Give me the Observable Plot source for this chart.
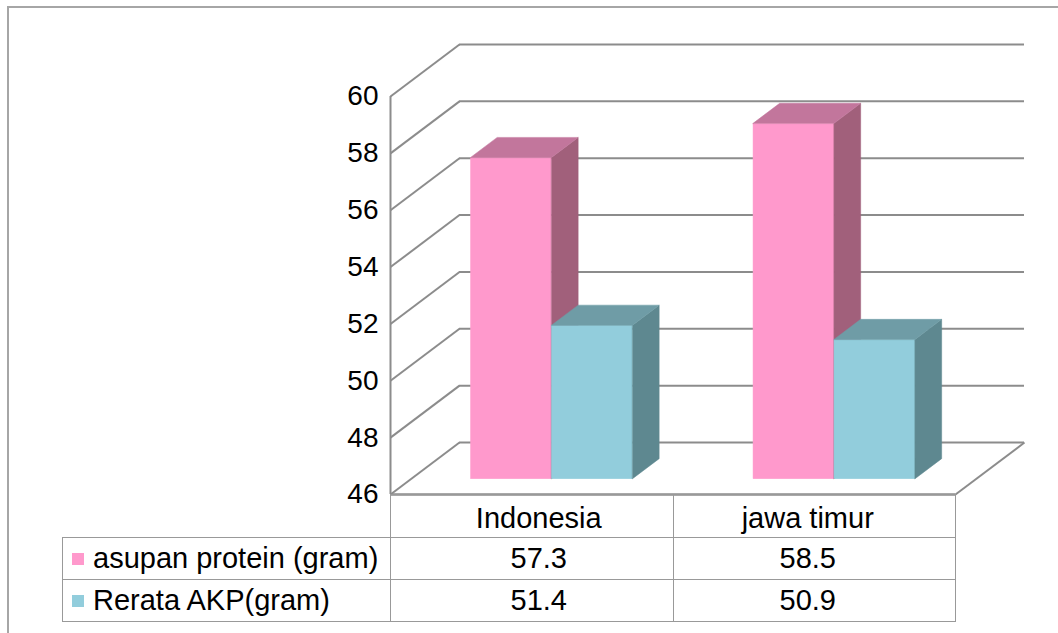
<!DOCTYPE html>
<html>
<head>
<meta charset="utf-8">
<script src="https://cdn.jsdelivr.net/npm/d3@7"></script>
<script src="https://cdn.jsdelivr.net/npm/@observablehq/plot@0.6"></script>
<style>
  html, body { margin: 0; padding: 0; background: #fff; }
  body { width: 1058px; height: 633px; position: relative; overflow: hidden;
         font-family: "Liberation Sans", Arial, sans-serif; color: #000; }
  #frame { position: absolute; left: 7px; top: 6px; right: -10px; bottom: -10px;
           border-top: 2px solid #a6a6a6; border-left: 2px solid #a6a6a6; }
  #chart { position: absolute; left: 0; top: 0; }
  #chart text { font-size: 28px; }
  #datatable { position: absolute; border-collapse: collapse; table-layout: fixed;
               font-size: 29px; }
  #datatable td { border: 1.5px solid #999; padding: 0; white-space: nowrap; }
  #datatable td.num { text-align: center; }
  #datatable td.c0 { padding-left: 14px; }
  #datatable td.c1 { padding-right: 13px; }
  #datatable tr.head td { padding-top: 5px; }
  #datatable td.name { padding-left: 9px; }
  #datatable td.corner { border-top: none; border-left: none; }
  .swatch { display: inline-block; width: 12px; height: 12px; margin-right: 9px;
            vertical-align: 3px; }
</style>
</head>
<body>
<div id="frame"></div>
<div id="chart"></div>
<table id="datatable"></table>
<script>
// Categories and series
const categories = ["Indonesia", "jawa timur"];
const seriesNames = ["asupan protein (gram)", "Rerata AKP(gram)"];
const asupanProtein = [57.3, 58.5];
const rerataAKP = [51.4, 50.9];
const yTicks = [46, 48, 50, 52, 54, 56, 58, 60];

// Face colours per series: front, side, top
const frontColors = ["#ff99cc", "#92cddc"];
const sideColors = ["#a1607b", "#5e8890"];
const topColors = ["#c2769c", "#6f9ca6"];
const gridColor = "#8c8c8c";

// Layout
const W = 1058, H = 500;
const mL = 390, mR = 103, mT = 96, mB = 6;
const yMin = 46, yMax = 60;
const pxX = (W - mL - mR) / categories.length;   // pixels per category
const pxY = (H - mT - mB) / (yMax - yMin);        // pixels per unit

// Oblique depth of the box: the back wall sits 69px right and 52px up
const DX = 69 / pxX;
const DY = 52 / pxY;
const zFront = 0.294, zBack = 0.68;               // bar depth within the box
const barW = 0.2867;                              // bar width as share of a category

const values = [asupanProtein, rerataAKP];
const bars = categories.flatMap((cat, i) => values.map((vals, s) => ({
  cat, series: s, value: vals[i],
  xl: i + 0.5 + (s - 1) * barW,
  xr: i + 0.5 + s * barW
})));

const barMarks = [0, 1].flatMap(s => {
  const b = bars.filter(d => d.series === s);
  const side = b.flatMap(d => [zFront, zBack].map(z => ({
    id: d.cat, x: d.xr + z * DX, y1: yMin + z * DY, y2: d.value + z * DY
  })));
  const top = b.flatMap(d => [zFront, zBack].map(z => ({
    id: d.cat, y: d.value + z * DY, x1: d.xl + z * DX, x2: d.xr + z * DX
  })));
  return [
    Plot.rect(b, {
      x1: d => d.xl + zFront * DX, x2: d => d.xr + zFront * DX,
      y1: () => yMin + zFront * DY, y2: d => d.value + zFront * DY,
      fill: frontColors[s], stroke: frontColors[s], strokeWidth: 0.5
    }),
    Plot.areaY(side, {x: "x", y1: "y1", y2: "y2", z: "id",
      fill: sideColors[s], stroke: sideColors[s], strokeWidth: 0.5}),
    Plot.areaX(top, {y: "y", x1: "x1", x2: "x2", z: "id",
      fill: topColors[s], stroke: topColors[s], strokeWidth: 0.5})
  ];
});

const n = categories.length;
const chart = Plot.plot({
  width: W, height: H,
  marginLeft: mL, marginRight: mR, marginTop: mT, marginBottom: mB,
  style: {fontFamily: '"Liberation Sans", Arial, sans-serif', fontSize: "28px",
          color: "#000", background: "transparent", overflow: "visible"},
  x: {domain: [0, n], axis: null},
  y: {domain: [yMin, yMax], ticks: yTicks, tickSize: 0, tickPadding: 12,
      label: null, tickFormat: d => String(d)},
  marks: [
    // left wall: gridlines running from the front edge to the back wall
    Plot.link(yTicks, {x1: () => 0, y1: d => d, x2: () => DX, y2: d => d + DY,
      stroke: gridColor, strokeWidth: 2}),
    // back wall gridlines
    Plot.ruleY(yTicks, {y: d => d + DY, x1: () => DX, x2: () => n + DX,
      stroke: gridColor, strokeWidth: 2}),
    // front vertical edge of the left wall
    Plot.ruleX([0], {y1: () => yMin, y2: () => yMax, stroke: gridColor, strokeWidth: 2}),
    // floor: right side
    Plot.link([yMin], {x1: () => n, y1: d => d, x2: () => n + DX, y2: d => d + DY,
      stroke: gridColor, strokeWidth: 2}),
    ...barMarks,
    // floor: front edge
    Plot.ruleY([yMin], {x1: () => 0, x2: () => n, stroke: gridColor, strokeWidth: 2.5})
  ]
});
document.getElementById("chart").appendChild(chart);

// Data table under the chart, columns aligned with the category bands
const xs = chart.scale("x");
const colEdges = d3.range(n + 1).map(i => xs.apply(i));
const labelLeft = 62;
const table = document.getElementById("datatable");
table.style.left = labelLeft + "px";
table.style.top = (H - mB) + "px";
table.style.width = (colEdges[n] - labelLeft) + "px";

const colgroup = document.createElement("colgroup");
[colEdges[0] - labelLeft, ...d3.range(n).map(i => colEdges[i + 1] - colEdges[i])]
  .forEach(w => { const c = document.createElement("col"); c.style.width = w + "px"; colgroup.appendChild(c); });
table.appendChild(colgroup);

const head = table.insertRow();
head.className = "head";
head.style.height = "43px";
const corner = head.insertCell(); corner.className = "corner";
categories.forEach((c, i) => { const td = head.insertCell(); td.className = "num c" + i; td.textContent = c; });

seriesNames.forEach((name, s) => {
  const tr = table.insertRow();
  tr.style.height = "42px";
  const th = tr.insertCell(); th.className = "name";
  const sw = document.createElement("span"); sw.className = "swatch"; sw.style.background = frontColors[s];
  th.appendChild(sw); th.appendChild(document.createTextNode(name));
  values[s].forEach((v, i) => { const td = tr.insertCell(); td.className = "num c" + i; td.textContent = v.toFixed(1); });
});
</script>
</body>
</html>
